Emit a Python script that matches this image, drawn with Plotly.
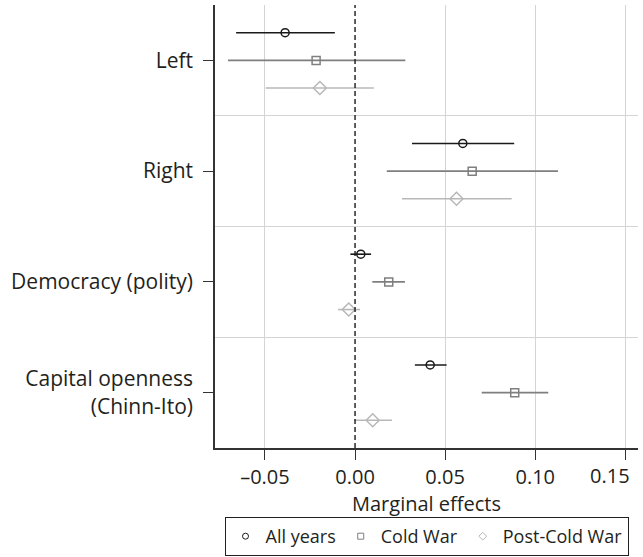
import plotly.graph_objects as go

categories = ["Left", "Right", "Democracy (polity)", "Capital openness<br>(Chinn-Ito)"]
series_names = ["All years", "Cold War", "Post-Cold War"]

# point estimates per series, in category order
est_all = [-0.0388, 0.0598, 0.0032, 0.0417]
lo_all = [-0.0660, 0.0316, -0.0026, 0.0332]
hi_all = [-0.0112, 0.0883, 0.0089, 0.0508]

est_cold = [-0.0216, 0.0650, 0.0187, 0.0886]
lo_cold = [-0.0705, 0.0176, 0.0096, 0.0703]
hi_cold = [0.0279, 0.1126, 0.0277, 0.1072]

est_post = [-0.0195, 0.0563, -0.0035, 0.0098]
lo_post = [-0.0496, 0.0260, -0.0094, -0.0006]
hi_post = [0.0104, 0.0869, 0.0028, 0.0205]

x_ticks = [-0.05, 0.0, 0.05, 0.10, 0.15]
x_tick_labels = ["\u20130.05", "0.00", "0.05", "0.10", "0.15"]

FONT = "Open Sans"
styles = [
    dict(color="#1a1a1a", symbol="circle-open", size=8, offset=-0.25),
    dict(color="#7f7f7f", symbol="square-open", size=8, offset=0.0),
    dict(color="#b8b8b8", symbol="diamond-open", size=10, offset=0.25),
]
data = [(est_all, lo_all, hi_all), (est_cold, lo_cold, hi_cold), (est_post, lo_post, hi_post)]

fig = go.Figure()
for name, (est, lo, hi), st in zip(series_names, data, styles):
    ys = [i + st["offset"] for i in range(len(categories))]
    fig.add_trace(go.Scatter(
        x=est, y=ys, mode="markers", name=name, showlegend=False,
        marker=dict(symbol=st["symbol"], size=st["size"], color=st["color"],
                    line=dict(width=1.5, color=st["color"])),
        error_x=dict(type="data", symmetric=False,
                     array=[h - e for h, e in zip(hi, est)],
                     arrayminus=[e - l for e, l in zip(est, lo)],
                     color=st["color"], thickness=1.6, width=0),
    ))
    fig.add_trace(go.Scatter(
        x=[None], y=[None], mode="markers", name=name, showlegend=True,
        marker=dict(symbol=st["symbol"], size=6, color=st["color"],
                    line=dict(width=1, color=st["color"])),
    ))

fig.add_shape(type="line", xref="x", yref="paper", x0=0, x1=0, y0=0, y1=1,
              line=dict(color="#1a1a1a", width=1.4, dash="5px,3px"), layer="above")

# last tick label is nudged left in the reference so it stays inside the page
shown_ticktext = x_tick_labels[:-1] + [""]
fig.add_annotation(x=x_ticks[-1], xref="x", y=0, yref="paper", text=x_tick_labels[-1],
                   showarrow=False, xanchor="right", yanchor="top", xshift=7, yshift=-12,
                   font=dict(size=20, family=FONT, color="#231f20"))

fig.update_layout(
    width=643, height=557,
    margin=dict(l=215, r=5, t=5, b=109),
    plot_bgcolor="white", paper_bgcolor="white",
    font=dict(family=FONT, size=20, color="#231f20"),
    xaxis=dict(
        range=[-0.0777, 0.157], tickvals=x_ticks, ticktext=shown_ticktext,
        showgrid=False, zeroline=False,
        minor=dict(tickvals=[-0.05, 0.05, 0.10, 0.15], showgrid=True,
                   gridcolor="#d4d4d4", gridwidth=1, ticks=""),
        showline=True, linecolor="#333333", linewidth=1.5,
        ticks="outside", ticklen=10, tickcolor="#333333", tickwidth=1.2,
        tickfont=dict(size=20), ticklabelstandoff=0,
        title=dict(text="Marginal effects", font=dict(size=20), standoff=3),
        automargin=False,
    ),
    yaxis=dict(
        range=[3.5, -0.5], tickvals=list(range(len(categories))), ticktext=categories,
        showgrid=False, zeroline=False,
        minor=dict(tickvals=[0.5, 1.5, 2.5], showgrid=True,
                   gridcolor="#d4d4d4", gridwidth=1, ticks=""),
        showline=True, linecolor="#333333", linewidth=1.5,
        ticks="outside", ticklen=10, tickcolor="#333333", tickwidth=1.2,
        tickfont=dict(size=21), ticklabelstandoff=6, automargin=False,
    ),
    legend=dict(
        orientation="h", x=0.5, xanchor="center", xref="paper",
        y=1 / 557, yanchor="bottom", yref="container",
        bordercolor="#231f20", borderwidth=1, font=dict(size=18),
        itemwidth=30, tracegroupgap=0,
    ),
)

fig.write_html("out.html")
